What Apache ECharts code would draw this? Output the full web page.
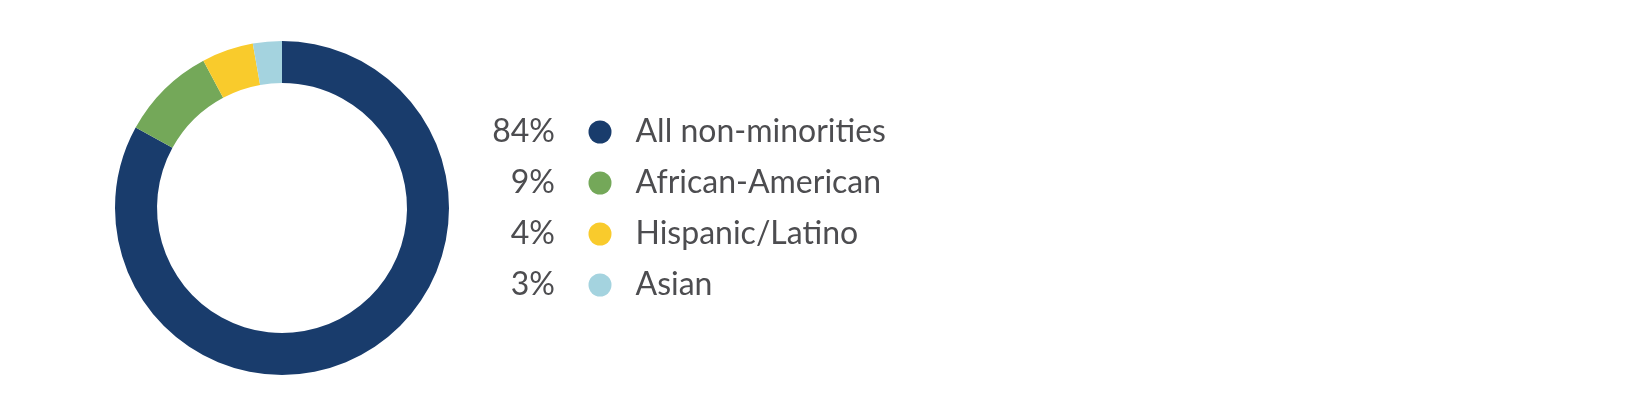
<!DOCTYPE html>
<html>
<head>
<meta charset="utf-8">
<script src="https://cdn.jsdelivr.net/npm/echarts@6/dist/echarts.min.js"></script>
<style>
html,body{margin:0;padding:0;background:#fff;}
#chart{width:1640px;height:415px;}
</style>
</head>
<body>
<div id="chart"></div>
<script>
const categories = ['All non-minorities', 'African-American', 'Hispanic/Latino', 'Asian'];
const values = [83.0, 9.2, 5.0, 2.8];
const percentLabels = ['84%', '9%', '4%', '3%'];
const colors = ['#193C6C', '#74A859', '#F9CB2C', '#A4D3DF'];

const FONT = 'Lato';
const FS = 32;
const TEXT_COLOR = '#4D4D50';
const ROW0 = 132, ROW_STEP = 51;

const chart = echarts.init(document.getElementById('chart'), null, {renderer: 'canvas'});
chart.setOption({
  animation: false,
  color: colors,
  legend: {
    orient: 'vertical',
    left: 588.5,
    top: ROW0 - FS / 2,
    padding: 0,
    icon: 'circle',
    itemWidth: 23,
    itemHeight: 23,
    itemGap: ROW_STEP - FS,
    selectedMode: false,
    data: categories,
    textStyle: {
      fontFamily: FONT,
      fontSize: FS,
      color: TEXT_COLOR,
      height: FS,
      lineHeight: FS,
      padding: [0, 0, 0, 19]
    }
  },
  graphic: percentLabels.map((t, i) => ({
    type: 'text',
    right: 1640 - 555,
    top: ROW0 + i * ROW_STEP - FS / 2,
    style: {
      text: t,
      font: FS + 'px ' + FONT,
      fill: TEXT_COLOR,
      textAlign: 'right'
    }
  })),
  series: [{
    type: 'pie',
    center: [282, 208],
    radius: [125, 167],
    startAngle: 90,
    clockwise: true,
    silent: true,
    label: {show: false},
    labelLine: {show: false},
    itemStyle: {borderWidth: 0},
    data: categories.map((c, i) => ({name: c, value: values[i]}))
  }]
});
</script>
</body>
</html>
